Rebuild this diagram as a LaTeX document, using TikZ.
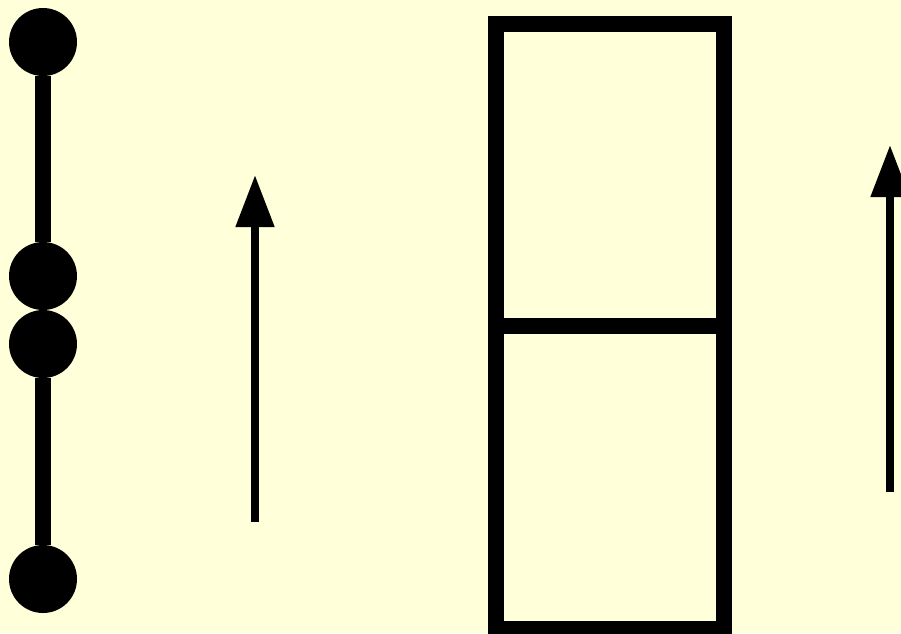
\documentclass[tikz,border=0pt]{standalone}
\usepackage{xcolor}
\definecolor{cream}{HTML}{FFFFDA}
\usepackage{tikz}
\usetikzlibrary{arrows.meta}

\begin{document}
\begin{tikzpicture}[
  x=1pt,y=-1pt,
  dot/.style={circle,fill=black,inner sep=0pt,minimum size=68pt},
  rod/.style={line width=16pt},
  cell/.style={draw=black,line width=16pt,inner sep=0pt,minimum width=228pt},
  ar/.style={-{Triangle[length=52pt,width=37pt]},line width=8pt}
]
\fill[cream] (0,0) rectangle (901,633);
\useasboundingbox (0,0) rectangle (901,633);
% chain of dots
\node[dot] (d1) at (43,42) {};
\node[dot] (d2) at (43,276) {};
\node[dot] (d3) at (43,344) {};
\node[dot] (d4) at (43,579) {};
\draw[rod] (d1) -- (d2);
\draw[rod] (d3) -- (d4);
% first arrow
\coordinate (a1) at (255,522);
\coordinate (b1) at (255,175);
\draw[ar] (a1) -- (b1);
% two stacked boxes
\node[cell,minimum height=302pt] (up) at (610,175) {};
\node[cell,minimum height=303pt] (lo) at (610,477.5) {};
% second arrow
\coordinate (a2) at (890,492);
\coordinate (b2) at (890,145);
\draw[ar] (a2) -- (b2);
\end{tikzpicture}
\end{document}
